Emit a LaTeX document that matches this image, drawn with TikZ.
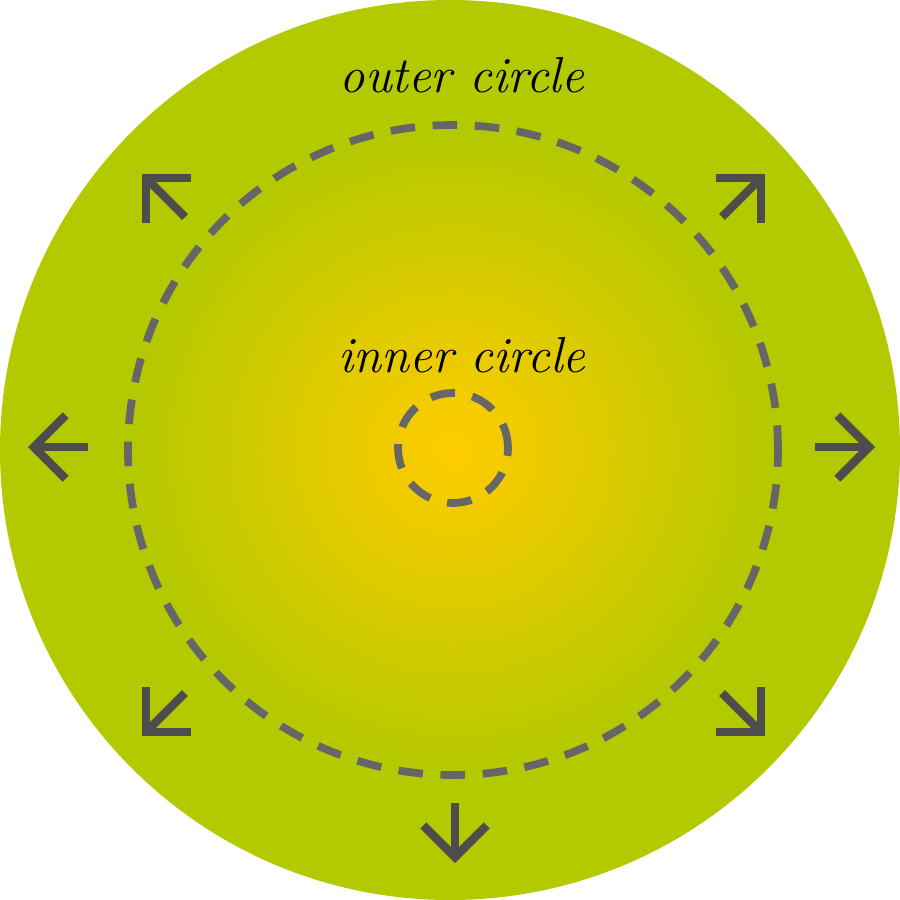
\documentclass[tikz,border=0pt]{standalone}
\usetikzlibrary{arrows.meta}
\definecolor{leaf}{HTML}{B3C900}
\definecolor{sun}{HTML}{FFCC00}
\definecolor{ink}{HTML}{4D4D4D}
\definecolor{ring}{HTML}{666666}
\begin{document}
\begin{tikzpicture}[x=0.01cm,y=-0.01cm,
    ringline/.style={draw=ring, line width=2.2pt, dash pattern=on 7pt off 5pt},
    push/.style={draw=ink, line width=2.4pt, -{Straight Barb[length=9pt,width=18pt]}},
    label/.style={font=\itshape\Large}]
  \useasboundingbox (0,0) rectangle (900,900);

  \fill[leaf] (450,450) circle (450);
  \shade[inner color=sun, outer color=leaf] (453,450) circle (330);

  \node[circle, ringline, minimum size=650*0.01cm] (outer) at (453,450) {};
  \node[circle, ringline, minimum size=110*0.01cm] (inner) at (453,448) {};

  \node[label] (outertext) at (462,75) {outer circle};
  \node[label] (innertext) at (462,355) {inner circle};

  % arrows pointing outward
  \foreach \name/\sx/\sy/\ex/\ey in {nw/185/217/142/174, ne/722/217/765/174,
      w/88/447/28/447, e/815/447/875/447, sw/185/693/142/736,
      se/722/693/765/736, s/455/803/455/863} {
    \coordinate (\name a) at (\sx,\sy);
    \coordinate (\name b) at (\ex,\ey);
    \draw[push] (\name a) -- (\name b);
  }
\end{tikzpicture}
\end{document}
